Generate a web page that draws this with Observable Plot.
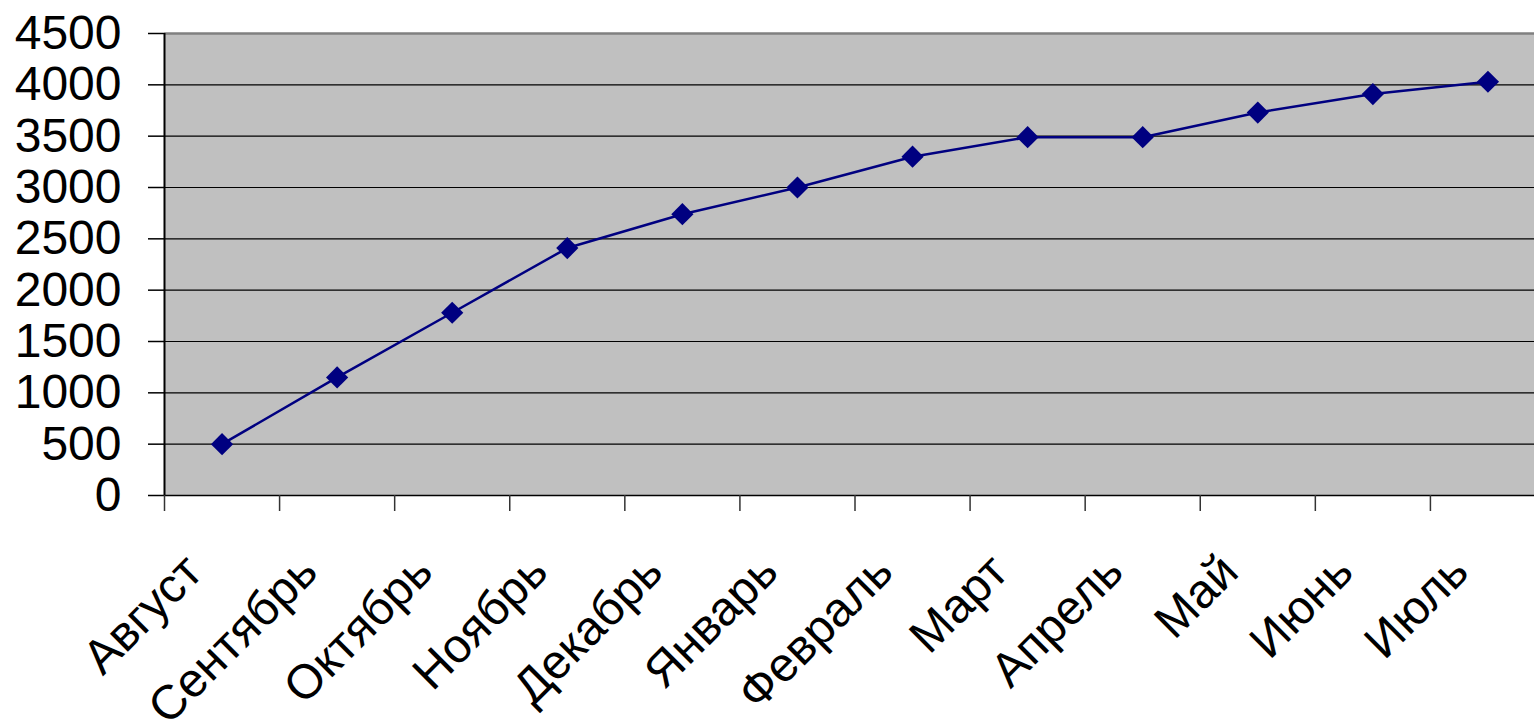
<!DOCTYPE html>
<html>
<head>
<meta charset="utf-8">
<script src="https://cdn.jsdelivr.net/npm/d3@7"></script>
<script src="https://cdn.jsdelivr.net/npm/@observablehq/plot@0.6"></script>
<style>
  html, body { margin: 0; padding: 0; background: white; overflow: hidden; }
  #chart svg { max-width: none !important; }
</style>
</head>
<body>
<div id="chart"></div>
<script>
const months = ["Август", "Сентябрь", "Октябрь", "Ноябрь", "Декабрь", "Январь", "Февраль", "Март", "Апрель", "Май", "Июнь", "Июль"];
const values = [500, 1150, 1780, 2410, 2740, 3000, 3300, 3490, 3490, 3730, 3910, 4030];
const yTicks = [0, 500, 1000, 1500, 2000, 2500, 3000, 3500, 4000, 4500];

const data = months.map((m, i) => ({i, month: m, value: values[i]}));
const idx = d3.range(months.length);
const bounds = d3.range(months.length + 1).map(k => k - 0.5);

const chart = Plot.plot({
  width: 1545,
  height: 723,
  marginLeft: 164,
  marginRight: 0,
  marginTop: 33,
  marginBottom: 228,
  style: {fontFamily: "'Liberation Sans', Arial, sans-serif", background: "white", color: "black", overflow: "visible"},
  x: {type: "linear", domain: [-0.5, months.length - 0.5]},
  y: {domain: [0, 4500]},
  marks: [
    Plot.frame({fill: "#C0C0C0", stroke: null}),
    Plot.ruleY(yTicks.filter(t => t > 0 && t < 4500), {stroke: "#000", strokeWidth: 1.2}),
    Plot.ruleY([4500], {stroke: "#808080", strokeWidth: 2.5}),
    Plot.ruleY([0], {stroke: "#000", strokeWidth: 1.5}),
    Plot.ruleX([-0.5], {y1: 0, y2: 4500, stroke: "#000", strokeWidth: 2}),
    Plot.axisY({ticks: yTicks, tickSize: 16, tickPadding: 27, fontSize: 48, tickFormat: d => String(d), stroke: "#000", strokeWidth: 1.5, label: null}),
    Plot.axisX({ticks: bounds, tickSize: 16, tickFormat: () => "", stroke: "#333", strokeWidth: 1.5, label: null}),
    Plot.axisX({ticks: idx, tickSize: 0, tickPadding: 68, tickRotate: -45, fontSize: 48, dx: -28, tickFormat: i => months[i], label: null}),
    Plot.line(data, {x: "i", y: "value", stroke: "#000080", strokeWidth: 2.5}),
    Plot.dot(data, {x: "i", y: "value", symbol: "diamond2", r: 10, fill: "#000080", stroke: null})
  ]
});
document.getElementById("chart").append(chart);
</script>
</body>
</html>
